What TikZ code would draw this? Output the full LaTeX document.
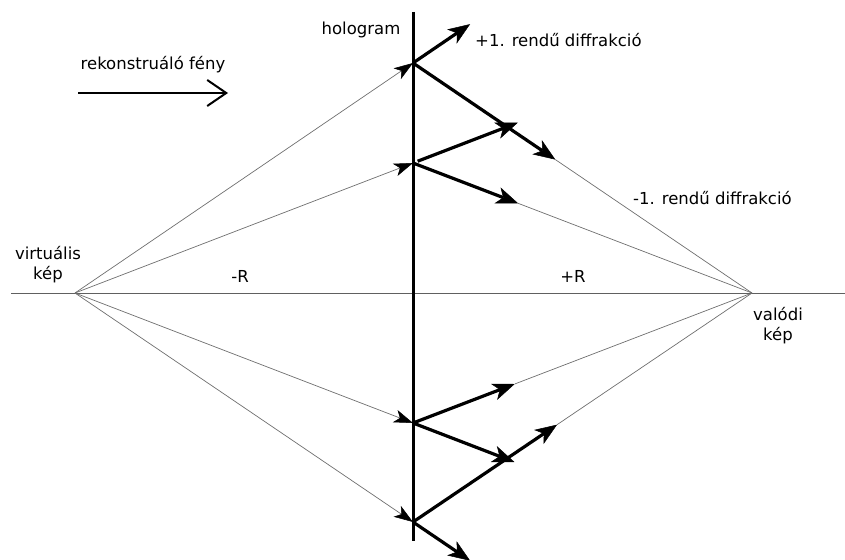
\documentclass[tikz,border=0pt]{standalone}
\usepackage{fontspec}
\setmainfont{DejaVu Sans}
\usepackage{tikz}
\usetikzlibrary{
  arrows.meta,
  calc,
  positioning
}
\usepackage{xcolor}
\definecolor{cray}{RGB}{110,110,110}
\definecolor{caxis}{RGB}{96,96,96}
\tikzset{
  lbl/.style={
    font=\fontsize{16.5}{20}\selectfont, inner sep=0pt, align=center
  },
  axisline/.style={draw=caxis, line width=1pt},
  holo/.style={draw=black, line width=3pt},
  ray/.style={draw=cray, line width=0.7pt},
  rayin/.style={
    ray, -{Stealth[length=19pt, width=13pt, inset=5pt, line width=0.5pt, color=black]}
  },
  order/.style={
    draw=black, line width=3.2pt,
    -{Stealth[length=22pt, width=17pt, inset=6pt, line width=0.5pt]}
  },
  recarr/.style={
    draw=black, line width=2pt,
    -{Straight Barb[length=19pt, width=26pt, line width=2pt]}
  }
}

\begin{document}
\begin{tikzpicture}[x=1pt, y=-1pt]
  \useasboundingbox (0,0) rectangle (845,559);

  %% ---- optical axis and hologram plate ---------------------------
  \coordinate (axl) at (11,293);
  \coordinate (axr) at (845,293);
  \coordinate (htop) at (413,12);
  \coordinate (hbot) at (413,541);
  \draw[axisline] (axl) -- (axr);
  \draw[holo] (htop) -- (hbot);

  %% ---- image points and points on the hologram --------------------
  \coordinate (vimg) at (75,293);
  \coordinate (rimg) at (752,293);
  \coordinate (h1) at (413,63);
  \coordinate (h2) at (413,163);
  \coordinate (h3) at (413,423);
  \coordinate (h4) at (413,522);

  %% ---- reconstructing rays and thin -1 order rays -----------------
  \foreach \h/\pf/\mf in {h1/1.169/0.42, h2/1.31/0.31,
                          h3/1.30/0.30, h4/1.169/0.425} {
    \coordinate (\h p) at ($(vimg)!\pf!(\h)$);
    \coordinate (\h m) at ($(\h)!\mf!(rimg)$);
    \draw[rayin] (vimg) -- (\h);
    \draw[ray] (\h m) -- (rimg);
  }

  %% ---- diffracted orders ------------------------------------------
  \draw[order] (h1) -- (h1p);
  \draw[order] (h1) -- (h1m);
  \draw[order, shorten <=5pt] (h2) -- (h2p);
  \draw[order] (h2) -- (h2m);
  \draw[order] (h3) -- (h3p);
  \draw[order] (h3) -- (h3m);
  \draw[order] (h4) -- (h4p);
  \draw[order] (h4) -- (h4m);

  %% ---- reconstructing light ---------------------------------------
  \node[lbl] (recon) at (153,65) {rekonstruáló fény};
  \coordinate (reca) at (78,93);
  \coordinate (recb) at (228,93);
  \draw[recarr] (reca) -- (recb);

  %% ---- labels -----------------------------------------------------
  \node[lbl] (hololbl) at (361,30) {hologram};
  \node[lbl, anchor=west] (plusone) at (475,40) {+1. rendű diffrakció};
  \node[lbl, anchor=west] (minusone) at (633,198) {-1. rendű diffrakció};
  \node[lbl] (virtlbl) at (48,265) {virtuális\\kép};
  \node[lbl] (reallbl) at (778,326) {valódi\\kép};
  \node[lbl] (minusr) at (240,276) {-R};
  \node[lbl] (plusr) at (573,276) {+R};

\end{tikzpicture}
\end{document}
